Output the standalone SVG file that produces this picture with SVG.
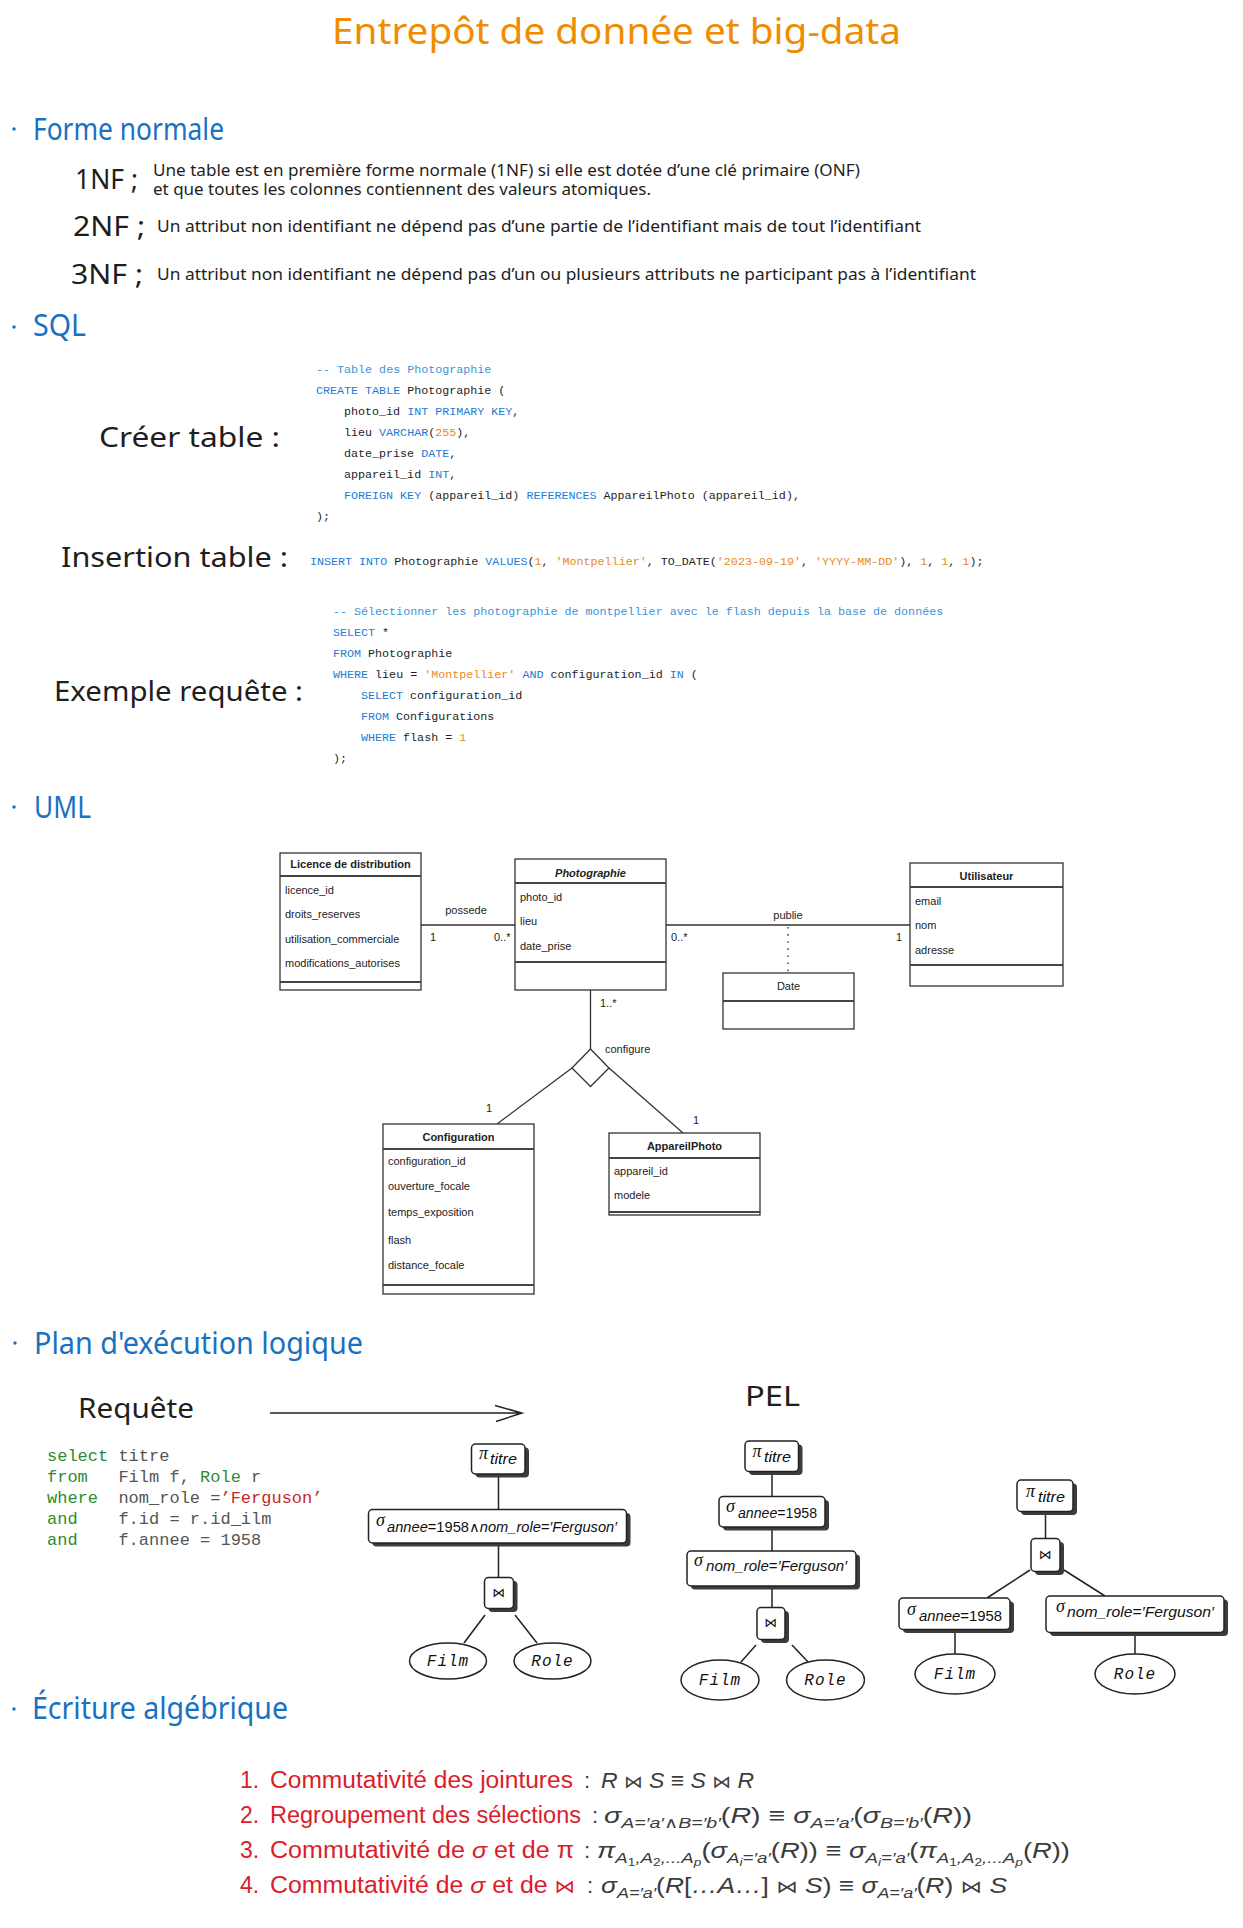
<svg xmlns="http://www.w3.org/2000/svg" width="1243" height="1928" viewBox="0 0 1243 1928">
<style>
  .hand { font-family: "Noto Sans", "DejaVu Sans", sans-serif; }
  .title { font-size: 36px; fill: #f08c00; }
  .h1 { font-size: 30px; fill: #1971c2; }
  .lbl { font-size: 28px; fill: #1e1e1e; }
  .body { font-size: 16px; fill: #1e1e1e; }
  .code { font-family: "Liberation Mono", "DejaVu Sans Mono", monospace; font-size: 11.7px; fill: #1e1e1e; white-space: pre; }
  .kw { fill: #1c7cd6; }
  .cm { fill: #3a94dc; }
  .num { fill: #e8891d; }
  .uml { font-family: "Liberation Sans", Arial, sans-serif; font-size: 11px; fill: #222; }
  .umlh { font-weight: bold; text-anchor: middle; }
  .box { fill: #fff; stroke: #333; stroke-width: 1.3; }
  .sep { stroke: #444; stroke-width: 2; }
  .conn { stroke: #333; stroke-width: 1.3; fill: none; }
  .tt { font-family: "Liberation Mono", "DejaVu Sans Mono", monospace; font-size: 17px; fill: #555; white-space: pre; }
  .tkw { fill: #2e8b30; }
  .tstr { fill: #c62828; }
  .node { fill: #fff; stroke: #222; stroke-width: 1.5; }
  .shadow { fill: #3c3c3c; }
  .edge { stroke: #222; stroke-width: 1.5; fill: none; }
  .sym { font-family: "Liberation Serif", "DejaVu Serif", serif; font-style: italic; font-size: 18px; fill: #111; }
  .sub { font-family: "Liberation Sans", "DejaVu Sans", sans-serif; font-size: 14px; fill: #111; }
  .it { font-style: italic; }
  .join { font-family: "DejaVu Sans", sans-serif; font-size: 13px; fill: #111; text-anchor: middle; }
  .rel { font-family: "Liberation Mono", monospace; font-style: italic; font-size: 16px; fill: #111; text-anchor: middle; letter-spacing: 1px; }
  .red { font-family: "Liberation Sans", Arial, sans-serif; font-size: 23px; fill: #dc1c2b; }
  .fx { font-family: "Liberation Sans", "DejaVu Sans", sans-serif; font-size: 22px; fill: #3c3c3c; font-style: italic; }
  .fs { font-size: 15px; }
  .fss { font-size: 11px; }
  .up { font-style: normal; }
</style>

<!-- Title -->
<text class="hand title" x="332" y="44" textLength="569" lengthAdjust="spacingAndGlyphs">Entrepôt de donnée et big-data</text>

<!-- Section bullets and headings -->
<g id="headings" class="hand h1">
  <circle cx="14" cy="129" r="1.7" fill="#1971c2"/>
  <text x="33" y="140" textLength="191" lengthAdjust="spacingAndGlyphs">Forme normale</text>
  <circle cx="14" cy="327" r="1.7" fill="#1971c2"/>
  <text x="33" y="336" textLength="53" lengthAdjust="spacingAndGlyphs">SQL</text>
  <circle cx="14" cy="807" r="1.7" fill="#1971c2"/>
  <text x="34" y="818" textLength="57" lengthAdjust="spacingAndGlyphs">UML</text>
  <circle cx="15" cy="1343" r="1.7" fill="#1971c2"/>
  <text x="34" y="1354" textLength="329" lengthAdjust="spacingAndGlyphs">Plan d'exécution logique</text>
  <circle cx="14" cy="1709" r="1.7" fill="#1971c2"/>
  <text x="32" y="1719" textLength="256" lengthAdjust="spacingAndGlyphs">Écriture algébrique</text>
</g>

<!-- Normal forms -->
<g id="normal-forms" class="hand">
  <text class="lbl" x="75" y="189" textLength="63" lengthAdjust="spacingAndGlyphs">1NF ;</text>
  <text class="body" x="153" y="176" textLength="707" lengthAdjust="spacingAndGlyphs">Une table est en première forme normale (1NF) si elle est dotée d’une clé primaire (ONF)</text>
  <text class="body" x="153" y="195" textLength="498" lengthAdjust="spacingAndGlyphs">et que toutes les colonnes contiennent des valeurs atomiques.</text>
  <text class="lbl" x="73" y="236" textLength="72" lengthAdjust="spacingAndGlyphs">2NF ;</text>
  <text class="body" x="157" y="232" textLength="764" lengthAdjust="spacingAndGlyphs">Un attribut non identifiant ne dépend pas d’une partie de l’identifiant mais de tout l’identifiant</text>
  <text class="lbl" x="71" y="284" textLength="72" lengthAdjust="spacingAndGlyphs">3NF ;</text>
  <text class="body" x="157" y="280" textLength="819" lengthAdjust="spacingAndGlyphs">Un attribut non identifiant ne dépend pas d’un ou plusieurs attributs ne participant pas à l’identifiant</text>
</g>

<!-- SQL examples -->
<g id="sql">
  <text class="hand lbl" x="99" y="447" textLength="181" lengthAdjust="spacingAndGlyphs">Créer table :</text>
  <text class="code cm" x="316" y="373">-- Table des Photographie</text>
  <text class="code" x="316" y="394"><tspan class="kw">CREATE TABLE</tspan> Photographie (</text>
  <text class="code" x="344" y="415">photo_id <tspan class="kw">INT PRIMARY KEY</tspan>,</text>
  <text class="code" x="344" y="436">lieu <tspan class="kw">VARCHAR</tspan>(<tspan class="num">255</tspan>),</text>
  <text class="code" x="344" y="457">date_prise <tspan class="kw">DATE</tspan>,</text>
  <text class="code" x="344" y="478">appareil_id <tspan class="kw">INT</tspan>,</text>
  <text class="code" x="344" y="499"><tspan class="kw">FOREIGN KEY</tspan> (appareil_id) <tspan class="kw">REFERENCES</tspan> AppareilPhoto (appareil_id),</text>
  <text class="code" x="316" y="520">);</text>

  <text class="hand lbl" x="61" y="567" textLength="227" lengthAdjust="spacingAndGlyphs">Insertion table :</text>
  <text class="code" x="310" y="565"><tspan class="kw">INSERT INTO</tspan> Photographie <tspan class="kw">VALUES</tspan>(<tspan class="num">1</tspan>, <tspan class="num">'Montpellier'</tspan>, TO_DATE(<tspan class="num">'2023-09-19'</tspan>, <tspan class="num">'YYYY-MM-DD'</tspan>), <tspan class="num">1</tspan>, <tspan class="num">1</tspan>, <tspan class="num">1</tspan>);</text>

  <text class="hand lbl" x="54" y="701" textLength="249" lengthAdjust="spacingAndGlyphs">Exemple requête :</text>
  <text class="code cm" x="333" y="615">-- Sélectionner les photographie de montpellier avec le flash depuis la base de données</text>
  <text class="code" x="333" y="636"><tspan class="kw">SELECT</tspan> *</text>
  <text class="code" x="333" y="657"><tspan class="kw">FROM</tspan> Photographie</text>
  <text class="code" x="333" y="678"><tspan class="kw">WHERE</tspan> lieu = <tspan class="num">'Montpellier'</tspan> <tspan class="kw">AND</tspan> configuration_id <tspan class="kw">IN</tspan> (</text>
  <text class="code" x="361" y="699"><tspan class="kw">SELECT</tspan> configuration_id</text>
  <text class="code" x="361" y="720"><tspan class="kw">FROM</tspan> Configurations</text>
  <text class="code" x="361" y="741"><tspan class="kw">WHERE</tspan> flash = <tspan class="num">1</tspan></text>
  <text class="code" x="333" y="762">);</text>
</g>

<!-- UML class diagram: associations -->
<g id="uml-connectors">
  <line class="conn" x1="421" y1="925" x2="515" y2="925"/>
  <line class="conn" x1="666" y1="925" x2="910" y2="925"/>
  <line class="conn" x1="788" y1="927" x2="788" y2="973" stroke-dasharray="1.6 5.5"/>
  <line class="conn" x1="590.5" y1="990" x2="590.5" y2="1049"/>
  <polygon class="conn" points="590.5,1049 609,1068 590.5,1086.5 572,1068"/>
  <line class="conn" x1="572" y1="1068" x2="497" y2="1124"/>
  <line class="conn" x1="609" y1="1068" x2="683" y2="1133"/>
  <g class="uml">
    <text x="466" y="914" text-anchor="middle">possede</text>
    <text x="430" y="941">1</text>
    <text x="494" y="941">0..*</text>
    <text x="788" y="919" text-anchor="middle">publie</text>
    <text x="671" y="941">0..*</text>
    <text x="896" y="941">1</text>
    <text x="600" y="1007">1..*</text>
    <text x="605" y="1053">configure</text>
    <text x="486" y="1112">1</text>
    <text x="693" y="1124">1</text>
  </g>
</g>

<!-- UML class diagram: classes -->
<g id="licence" class="uml">
  <rect class="box" x="280" y="853" width="141" height="137"/>
  <line class="sep" x1="280" y1="876" x2="421" y2="876"/>
  <line class="sep" x1="280" y1="982" x2="421" y2="982"/>
  <text class="umlh" x="350.5" y="868">Licence de distribution</text>
  <text x="285" y="894">licence_id</text>
  <text x="285" y="918">droits_reserves</text>
  <text x="285" y="943">utilisation_commerciale</text>
  <text x="285" y="967">modifications_autorises</text>
</g>
<g id="photographie" class="uml">
  <rect class="box" x="515" y="859" width="151" height="131"/>
  <line class="sep" x1="515" y1="883" x2="666" y2="883"/>
  <line class="sep" x1="515" y1="962" x2="666" y2="962"/>
  <text class="umlh" x="590.5" y="877" font-style="italic">Photographie</text>
  <text x="520" y="901">photo_id</text>
  <text x="520" y="925">lieu</text>
  <text x="520" y="950">date_prise</text>
</g>
<g id="utilisateur" class="uml">
  <rect class="box" x="910" y="863" width="153" height="123"/>
  <line class="sep" x1="910" y1="887" x2="1063" y2="887"/>
  <line class="sep" x1="910" y1="965" x2="1063" y2="965"/>
  <text class="umlh" x="986.5" y="880">Utilisateur</text>
  <text x="915" y="905">email</text>
  <text x="915" y="929">nom</text>
  <text x="915" y="954">adresse</text>
</g>
<g id="date" class="uml">
  <rect class="box" x="723" y="973" width="131" height="56"/>
  <line class="sep" x1="723" y1="1001" x2="854" y2="1001"/>
  <text x="788.5" y="990" text-anchor="middle">Date</text>
</g>
<g id="configuration" class="uml">
  <rect class="box" x="383" y="1124" width="151" height="170"/>
  <line class="sep" x1="383" y1="1149" x2="534" y2="1149"/>
  <line class="sep" x1="383" y1="1285" x2="534" y2="1285"/>
  <text class="umlh" x="458.5" y="1141">Configuration</text>
  <text x="388" y="1165">configuration_id</text>
  <text x="388" y="1190">ouverture_focale</text>
  <text x="388" y="1216">temps_exposition</text>
  <text x="388" y="1244">flash</text>
  <text x="388" y="1269">distance_focale</text>
</g>
<g id="appareilphoto" class="uml">
  <rect class="box" x="609" y="1133" width="151" height="82"/>
  <line class="sep" x1="609" y1="1158" x2="760" y2="1158"/>
  <line class="sep" x1="609" y1="1212" x2="760" y2="1212"/>
  <text class="umlh" x="684.5" y="1150">AppareilPhoto</text>
  <text x="614" y="1175">appareil_id</text>
  <text x="614" y="1199">modele</text>
</g>

<!-- Logical execution plan: query -->
<g id="requete">
  <text class="hand lbl" x="78" y="1418" textLength="116" lengthAdjust="spacingAndGlyphs">Requête</text>
  <text class="tt" x="47" y="1461"><tspan class="tkw">select</tspan> titre</text>
  <text class="tt" x="47" y="1482"><tspan class="tkw">from</tspan>   Film f, <tspan class="tkw">Role</tspan> r</text>
  <text class="tt" x="47" y="1503"><tspan class="tkw">where</tspan>  nom_role =<tspan class="tstr">’Ferguson’</tspan></text>
  <text class="tt" x="47" y="1524"><tspan class="tkw">and</tspan>    f.id = r.id_ilm</text>
  <text class="tt" x="47" y="1545"><tspan class="tkw">and</tspan>    f.annee = 1958</text>
  <path class="edge" d="M270 1413 L522 1413 M495 1405.5 L522 1413 L496 1421.5" stroke-width="1.4"/>
  <text class="hand lbl" x="745" y="1406" textLength="55" lengthAdjust="spacingAndGlyphs">PEL</text>
</g>

<!-- Plan trees: edges -->
<g id="tree-edges">
  <line class="edge" x1="498.5" y1="1474" x2="498.5" y2="1509"/>
  <line class="edge" x1="498.5" y1="1543" x2="498.5" y2="1577"/>
  <line class="edge" x1="485" y1="1615" x2="464" y2="1643"/>
  <line class="edge" x1="515" y1="1615" x2="537" y2="1643"/>

  <line class="edge" x1="772" y1="1471" x2="772" y2="1496"/>
  <line class="edge" x1="772" y1="1527" x2="772" y2="1551"/>
  <line class="edge" x1="772" y1="1586" x2="772" y2="1607"/>
  <line class="edge" x1="756" y1="1645" x2="741" y2="1662"/>
  <line class="edge" x1="792" y1="1645" x2="808" y2="1662"/>

  <line class="edge" x1="1045.5" y1="1512" x2="1045.5" y2="1538"/>
  <line class="edge" x1="1030" y1="1570" x2="987" y2="1598"/>
  <line class="edge" x1="1064" y1="1570" x2="1105" y2="1596"/>
  <line class="edge" x1="955" y1="1629" x2="955" y2="1654"/>
  <line class="edge" x1="1135" y1="1632" x2="1135" y2="1654"/>
</g>

<!-- Plan tree 1 -->
<g id="t1-proj">
  <rect class="shadow" x="475.5" y="1447.5" width="53.5" height="30" rx="4"/>
  <rect class="node" x="471.5" y="1444" width="53.5" height="30" rx="4"/>
  <text class="sym" x="479" y="1459">π</text>
  <text class="sub it" x="490" y="1464" textLength="27" lengthAdjust="spacingAndGlyphs">titre</text>
</g>
<g id="t1-select">
  <rect class="shadow" x="372.5" y="1513" width="258" height="33.5" rx="4"/>
  <rect class="node" x="368.5" y="1509.5" width="258" height="33.5" rx="4"/>
  <text class="sym" x="376" y="1526">σ</text>
  <text class="sub" x="387" y="1532" textLength="230" lengthAdjust="spacingAndGlyphs"><tspan class="it">annee</tspan>=1958∧<tspan class="it">nom_role</tspan>=<tspan class="it">′Ferguson′</tspan></text>
</g>
<g id="t1-join">
  <rect class="shadow" x="488.5" y="1581" width="29" height="31" rx="4"/>
  <rect class="node" x="484.5" y="1577.5" width="29" height="31" rx="4"/>
  <text class="join" x="499" y="1597">⋈</text>
</g>
<g id="t1-film">
  <ellipse class="node" cx="448" cy="1661" rx="38.5" ry="18"/>
  <text class="rel" x="448" y="1666">Film</text>
</g>
<g id="t1-role">
  <ellipse class="node" cx="552.5" cy="1661" rx="38.5" ry="18"/>
  <text class="rel" x="552.5" y="1666">Role</text>
</g>

<!-- Plan tree 2 -->
<g id="t2-proj">
  <rect class="shadow" x="749" y="1444.5" width="53.5" height="30.5" rx="4"/>
  <rect class="node" x="745" y="1441" width="53.5" height="30.5" rx="4"/>
  <text class="sym" x="752.5" y="1457">π</text>
  <text class="sub it" x="764" y="1462" textLength="27" lengthAdjust="spacingAndGlyphs">titre</text>
</g>
<g id="t2-select-annee">
  <rect class="shadow" x="723" y="1500" width="106" height="30.5" rx="4"/>
  <rect class="node" x="719" y="1496.5" width="106" height="30.5" rx="4"/>
  <text class="sym" x="726" y="1512">σ</text>
  <text class="sub" x="738" y="1518" textLength="79" lengthAdjust="spacingAndGlyphs"><tspan class="it">annee</tspan>=1958</text>
</g>
<g id="t2-select-role">
  <rect class="shadow" x="691" y="1554.5" width="169" height="35" rx="4"/>
  <rect class="node" x="687" y="1551" width="169" height="35" rx="4"/>
  <text class="sym" x="694" y="1566">σ</text>
  <text class="sub" x="706" y="1571" textLength="141" lengthAdjust="spacingAndGlyphs"><tspan class="it">nom_role</tspan>=<tspan class="it">′Ferguson′</tspan></text>
</g>
<g id="t2-join">
  <rect class="shadow" x="761" y="1611" width="28" height="32" rx="4"/>
  <rect class="node" x="757" y="1607.5" width="28" height="32" rx="4"/>
  <text class="join" x="771" y="1627">⋈</text>
</g>
<g id="t2-film">
  <ellipse class="node" cx="720" cy="1680" rx="39" ry="20"/>
  <text class="rel" x="720" y="1685">Film</text>
</g>
<g id="t2-role">
  <ellipse class="node" cx="825.5" cy="1680" rx="39" ry="20"/>
  <text class="rel" x="825.5" y="1685">Role</text>
</g>

<!-- Plan tree 3 -->
<g id="t3-proj">
  <rect class="shadow" x="1021" y="1483.5" width="56" height="31.5" rx="4"/>
  <rect class="node" x="1017" y="1480" width="56" height="31.5" rx="4"/>
  <text class="sym" x="1026" y="1497">π</text>
  <text class="sub it" x="1038" y="1502" textLength="27" lengthAdjust="spacingAndGlyphs">titre</text>
</g>
<g id="t3-join">
  <rect class="shadow" x="1035" y="1542" width="29" height="33" rx="4"/>
  <rect class="node" x="1031" y="1538.5" width="29" height="33" rx="4"/>
  <text class="join" x="1045.5" y="1559">⋈</text>
</g>
<g id="t3-select-annee">
  <rect class="shadow" x="903" y="1601.5" width="111" height="31.5" rx="4"/>
  <rect class="node" x="899" y="1598" width="111" height="31.5" rx="4"/>
  <text class="sym" x="907" y="1615">σ</text>
  <text class="sub" x="919" y="1621" textLength="83" lengthAdjust="spacingAndGlyphs"><tspan class="it">annee</tspan>=1958</text>
</g>
<g id="t3-select-role">
  <rect class="shadow" x="1050" y="1599.5" width="178" height="36.5" rx="4"/>
  <rect class="node" x="1046" y="1596" width="178" height="36.5" rx="4"/>
  <text class="sym" x="1056" y="1612">σ</text>
  <text class="sub" x="1067" y="1617" textLength="147" lengthAdjust="spacingAndGlyphs"><tspan class="it">nom_role</tspan>=<tspan class="it">′Ferguson′</tspan></text>
</g>
<g id="t3-film">
  <ellipse class="node" cx="955" cy="1674" rx="40" ry="20"/>
  <text class="rel" x="955" y="1679">Film</text>
</g>
<g id="t3-role">
  <ellipse class="node" cx="1135" cy="1674" rx="40" ry="20"/>
  <text class="rel" x="1135" y="1679">Role</text>
</g>

<!-- Algebraic rewriting rules -->
<g id="algebra">
  <text class="red" x="240" y="1788">1.</text>
  <text class="red" x="270" y="1788" textLength="303" lengthAdjust="spacingAndGlyphs">Commutativité des jointures</text>
  <text class="fx up" x="584" y="1788">:</text>
  <text class="fx" x="601" y="1788" textLength="153" lengthAdjust="spacingAndGlyphs">R <tspan class="up" font-family="DejaVu Sans" font-size="18">⋈</tspan> S <tspan class="up">≡</tspan> S <tspan class="up" font-family="DejaVu Sans" font-size="18">⋈</tspan> R</text>

  <text class="red" x="240" y="1823">2.</text>
  <text class="red" x="270" y="1823" textLength="311" lengthAdjust="spacingAndGlyphs">Regroupement des sélections</text>
  <text class="fx up" x="592" y="1823">:</text>
  <text class="fx" x="604" y="1823" textLength="368" lengthAdjust="spacingAndGlyphs">σ<tspan class="fs" dy="5">A=′a′∧B=′b′</tspan><tspan class="up" dy="-5">(</tspan>R<tspan class="up">) ≡ </tspan>σ<tspan class="fs" dy="5">A=′a′</tspan><tspan class="up" dy="-5">(</tspan>σ<tspan class="fs" dy="5">B=′b′</tspan><tspan class="up" dy="-5">(</tspan>R<tspan class="up">))</tspan></text>

  <text class="red" x="240" y="1858">3.</text>
  <text class="red" x="270" y="1858" textLength="304" lengthAdjust="spacingAndGlyphs">Commutativité de <tspan font-style="italic">σ</tspan> et de π</text>
  <text class="fx up" x="584" y="1858">:</text>
  <text class="fx" x="597" y="1858" textLength="473" lengthAdjust="spacingAndGlyphs">π<tspan class="fs" dy="5">A</tspan><tspan class="fss up" dy="3">1</tspan><tspan class="fs" dy="-3">,A</tspan><tspan class="fss up" dy="3">2</tspan><tspan class="fs" dy="-3">,...A</tspan><tspan class="fss" dy="3">p</tspan><tspan class="up" dy="-8">(</tspan>σ<tspan class="fs" dy="5">A</tspan><tspan class="fss" dy="3">i</tspan><tspan class="fs" dy="-3">=′a′</tspan><tspan class="up" dy="-5">(</tspan>R<tspan class="up">)) ≡ </tspan>σ<tspan class="fs" dy="5">A</tspan><tspan class="fss" dy="3">i</tspan><tspan class="fs" dy="-3">=′a′</tspan><tspan class="up" dy="-5">(</tspan>π<tspan class="fs" dy="5">A</tspan><tspan class="fss up" dy="3">1</tspan><tspan class="fs" dy="-3">,A</tspan><tspan class="fss up" dy="3">2</tspan><tspan class="fs" dy="-3">,...A</tspan><tspan class="fss" dy="3">p</tspan><tspan class="up" dy="-8">(</tspan>R<tspan class="up">))</tspan></text>

  <text class="red" x="240" y="1893">4.</text>
  <text class="red" x="270" y="1893" textLength="305" lengthAdjust="spacingAndGlyphs">Commutativité de <tspan font-style="italic">σ</tspan> et de <tspan font-family="DejaVu Sans" font-size="19">⋈</tspan></text>
  <text class="fx up" x="587" y="1893">:</text>
  <text class="fx" x="601" y="1893" textLength="406" lengthAdjust="spacingAndGlyphs">σ<tspan class="fs" dy="5">A=′a′</tspan><tspan class="up" dy="-5">(</tspan>R<tspan class="up">[</tspan>…A…<tspan class="up">] </tspan><tspan class="up" font-family="DejaVu Sans" font-size="18">⋈</tspan> S<tspan class="up">) ≡ </tspan>σ<tspan class="fs" dy="5">A=′a′</tspan><tspan class="up" dy="-5">(</tspan>R<tspan class="up">) </tspan><tspan class="up" font-family="DejaVu Sans" font-size="18">⋈</tspan> S</text>
</g>
</svg>
